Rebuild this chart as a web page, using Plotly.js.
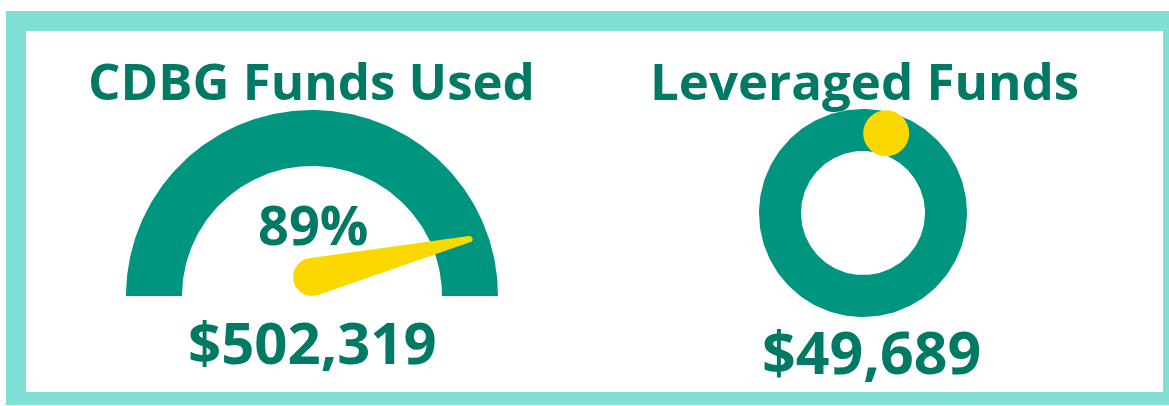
<!DOCTYPE html>
<html><head><meta charset="utf-8">
<script src="https://cdn.plot.ly/plotly-3.0.1.min.js"></script>
<style>html,body{margin:0;padding:0;overflow:hidden;background:#fff}#chart{width:1169px;height:600px}</style>
</head><body><div id="chart"></div>
<script>
// ---- data ----
const titles = ["CDBG Funds Used", "Leveraged Funds"];
const amounts = [502319, 49689];
const percentUsed = [89];
const ringMarkerShare = [0.045];

// ---- style ----
const TEAL = '#00957E', TEXT = '#007A64', YELLOW = '#FBD900', BORDER = '#80E0D4';
const W = 1169, H = 600;
const gauge = {cx: 312, cy: 296, R: 186, r: 130, pivotR: 19, tipR: 3.5, len: 167};
const ring = {cx: 863, cy: 213, R: 104, r: 62};

function arcPts(cx, cy, r, a0, a1, n) {
  const xs = [], ys = [];
  for (let i = 0; i <= n; i++) {
    const a = a0 + (a1 - a0) * i / n;
    xs.push(cx + r * Math.cos(a));
    ys.push(cy - r * Math.sin(a));
  }
  return [xs, ys];
}

// gauge band (half annulus)
const go = arcPts(gauge.cx, gauge.cy, gauge.R, 0, Math.PI, 180);
const gi = arcPts(gauge.cx, gauge.cy, gauge.r, Math.PI, 0, 180);
const gaugeTrace = {x: go[0].concat(gi[0]), y: go[1].concat(gi[1]), mode: 'lines', fill: 'toself',
  fillcolor: TEAL, line: {width: 0}, hoverinfo: 'skip'};

// needle from percent
const theta = (1 - percentUsed[0] / 100) * Math.PI;
const P = {x: gauge.cx, y: -(gauge.cy - gauge.pivotR)};
const T = {x: gauge.cx + gauge.len * Math.cos(theta), y: -gauge.cy + gauge.len * Math.sin(theta)};
const phi = Math.atan2(T.y - P.y, T.x - P.x);
const D = Math.hypot(T.x - P.x, T.y - P.y);
const beta = Math.acos((gauge.pivotR - gauge.tipR) / D);
const nx = [], ny = [];
for (let i = 0; i <= 60; i++) {
  const a = phi + beta + (2 * Math.PI - 2 * beta) * i / 60;
  nx.push(P.x + gauge.pivotR * Math.cos(a)); ny.push(-(P.y + gauge.pivotR * Math.sin(a)));
}
for (let i = 0; i <= 20; i++) {
  const a = phi - beta + 2 * beta * i / 20;
  nx.push(T.x + gauge.tipR * Math.cos(a)); ny.push(-(T.y + gauge.tipR * Math.sin(a)));
}
const needleTrace = {x: nx, y: ny, mode: 'lines', fill: 'toself', fillcolor: YELLOW, line: {width: 0}, hoverinfo: 'skip'};

// ring (full annulus)
const ro = arcPts(ring.cx, ring.cy, ring.R, 0, 2 * Math.PI, 240);
const ri = arcPts(ring.cx, ring.cy, ring.r, 2 * Math.PI, 0, 240);
const ringTrace = {x: ro[0].concat(ri[0]), y: ro[1].concat(ri[1]), mode: 'lines', fill: 'toself',
  fillcolor: TEAL, line: {width: 0}, hoverinfo: 'skip'};

// ring marker
const ma = Math.PI / 2 - ringMarkerShare[0] * 2 * Math.PI;
const mr = (ring.R + ring.r) / 2;
const dotTrace = {x: [ring.cx + mr * Math.cos(ma)], y: [ring.cy - mr * Math.sin(ma)], mode: 'markers',
  marker: {size: 46, color: YELLOW, line: {width: 0}}, hoverinfo: 'skip'};

const fmt = v => '$' + v.toLocaleString('en-US');
const font = (s) => ({family: 'Open Sans', size: s, color: TEXT, weight: 700});

const annotations = [
  {x: 311, y: 79.5, text: titles[0], font: font(51)},
  {x: 864, y: 79.5, text: titles[1], font: font(51)},
  {x: 313, y: 224, text: percentUsed[0] + '%', font: font(54)},
  {x: 312, y: 341, text: fmt(amounts[0]), font: font(58)},
  {x: 871, y: 351, text: fmt(amounts[1]), font: font(59)}
].map(a => Object.assign({xref: 'x', yref: 'y', showarrow: false, xanchor: 'center', yanchor: 'middle'}, a));

const shapes = [
  {type: 'rect', xref: 'x', yref: 'y', x0: 6, x1: 1190, y0: 11, y1: 405, fillcolor: BORDER, line: {width: 0}, layer: 'below'},
  {type: 'rect', xref: 'x', yref: 'y', x0: 26, x1: 1163, y0: 31, y1: 392, fillcolor: '#FFFFFF', line: {width: 0}, layer: 'below'}
];

Plotly.newPlot('chart', [gaugeTrace, needleTrace, ringTrace, dotTrace], {
  width: W, height: H, margin: {l: 0, r: 0, t: 0, b: 0},
  paper_bgcolor: '#FFFFFF', plot_bgcolor: 'rgba(0,0,0,0)', showlegend: false,
  xaxis: {range: [0, W], visible: false, fixedrange: true},
  yaxis: {range: [H, 0], visible: false, fixedrange: true},
  annotations: annotations, shapes: shapes
}, {staticPlot: true, displayModeBar: false});
</script></body></html>
